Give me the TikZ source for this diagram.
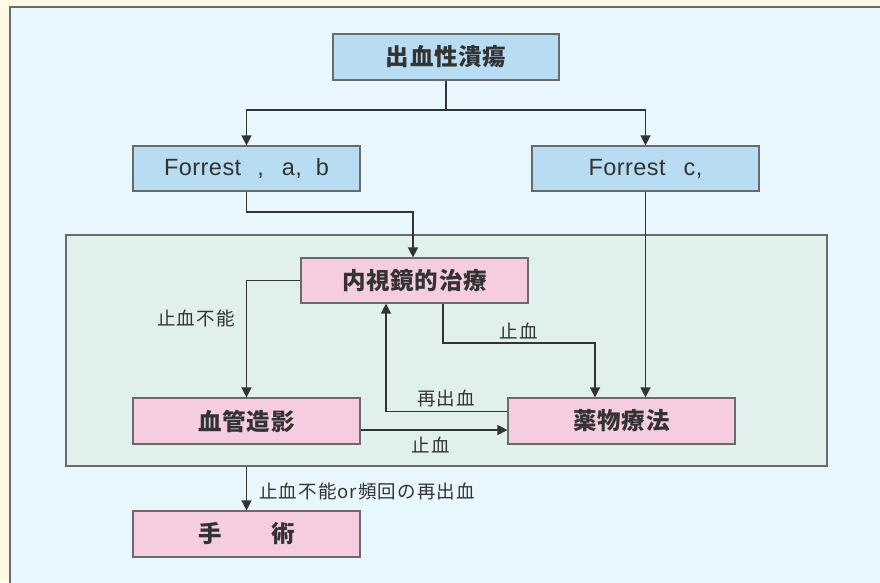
\documentclass[tikz,border=0pt]{standalone}
\usepackage{fontspec}
\setmainfont{Noto Sans CJK JP}
\newfontfamily\jpbig{Noto Sans CJK JP}[LetterSpace=3]
\newfontfamily\jpsmall{Noto Sans CJK JP}[LetterSpace=6]
\newfontfamily\latin{Liberation Sans}[LetterSpace=2]
\usetikzlibrary{arrows.meta}
\definecolor{cream}{HTML}{FFF9E6}
\definecolor{bgblue}{HTML}{E8F6FE}
\definecolor{boxblue}{HTML}{B8DCF2}
\definecolor{boxpink}{HTML}{F6CCE0}
\definecolor{panelgreen}{HTML}{E0F0EC}
\definecolor{edge}{HTML}{6A6A6A}
\definecolor{ink}{HTML}{333333}
\tikzset{
  box/.style={draw=edge, line width=1.2pt, rectangle, inner sep=0pt,
    minimum width=227pt, minimum height=46pt, text=ink},
  bluebox/.style={box, fill=boxblue},
  pinkbox/.style={box, fill=boxpink},
  boldlabel/.style={font=\jpbig\fontsize{23.5pt}{27pt}\selectfont\bfseries},
  forlabel/.style={font=\latin\fontsize{23.5pt}{27pt}\selectfont},
  smalllabel/.style={font=\jpsmall\fontsize{18.5pt}{21pt}\selectfont, text=ink, inner sep=0pt},
  arr/.style={draw=ink, line width=1.4pt, -{Triangle[width=10pt,length=10pt]}},
  ln/.style={draw=ink, line width=1.4pt},
}
\begin{document}
\begin{tikzpicture}[x=1pt,y=-1pt]
\useasboundingbox (0,0) rectangle (880,582);
\fill[cream] (0,0) rectangle (880,582);
\draw[draw=edge, line width=2pt, fill=bgblue] (10,7) rectangle (900,600);
% panel
\node[draw=edge, line width=1.2pt, fill=panelgreen, inner sep=0pt,
  minimum width=761pt, minimum height=231pt] (panel) at (446.5,350.5) {};
% boxes
\node[bluebox, minimum width=226pt, boldlabel] (top) at (446,57) {出血性潰瘍};
\node[bluebox, minimum height=45pt, forlabel] (fab) at (246.5,168.5)
  {Forrest\hspace{16pt},\hspace{18pt}a,\hspace{14pt}b};
\node[bluebox, minimum height=45pt, forlabel] (fc) at (645.5,168.5)
  {Forrest\hspace{18pt}c,\hspace{26pt}};
\node[pinkbox, minimum height=45pt, boldlabel] (endo) at (414.5,280.5) {内視鏡的治療};
\node[pinkbox, boldlabel] (angio) at (246.5,421) {血管造影};
\node[pinkbox, boldlabel] (drug) at (621.5,421) {薬物療法};
\node[pinkbox, boldlabel] (surg) at (246.5,534) {手\hspace{50pt}術};
% coordinates
\coordinate (split) at (446,110);
\coordinate (j1) at (413,212);
\coordinate (j2) at (443,343);
\coordinate (j3) at (595,343);
\coordinate (j4) at (386,411.7);
\coordinate (j5) at (0,430);
% connectors
\draw[ln] (top.south) -- (split);
\draw[arr] (split) -| (fab.north);
\draw[arr] (split) -| (fc.north);
\draw[arr] (fab.south) |- (j1) -- (j1 |- endo.north);
\draw[arr] (fc.south) -- (fc.south |- drug.north);
\draw[arr] (endo.west) -| (angio.north);
\draw[arr] (j2 |- endo.south) -- (j2) -- (j3) -- (j3 |- drug.north);
\draw[arr] (j4 -| drug.west) -- (j4) -- (j4 |- endo.south);
\draw[arr] (angio.east |- j5) -- (drug.west |- j5);
\draw[arr] (panel.south -| surg.north) -- (surg.north);
% labels
\node[smalllabel] (l1) at (196,318) {止血不能};
\node[smalllabel] (l2) at (519,331) {止血};
\node[smalllabel] (l3) at (446,398) {再出血};
\node[smalllabel] (l4) at (431,445) {止血};
\node[smalllabel, anchor=west] (l5) at (259,491) {止血不能or頻回の再出血};
\end{tikzpicture}
\end{document}
